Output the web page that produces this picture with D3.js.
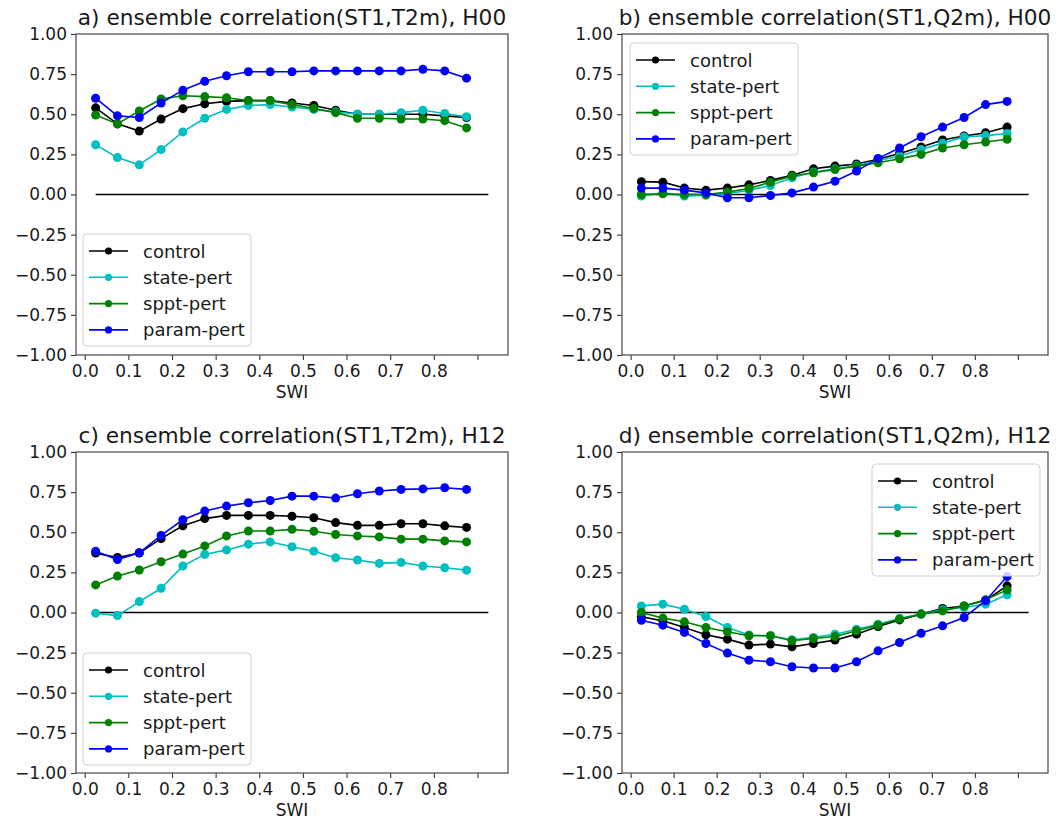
<!DOCTYPE html>
<html>
<head>
<meta charset="utf-8">
<script src="https://cdn.jsdelivr.net/npm/d3@7"></script>
<style>
  body { margin: 0; background: #fff; }
  svg { display: block; font-family: "DejaVu Sans", sans-serif; }
  .tick text { fill: #1a1a1a; }
</style>
</head>
<body>
<svg id="chart" width="1057" height="822"></svg>
<script>
// SWI bin centres (x categories)
var swi = [0.025, 0.075, 0.125, 0.175, 0.225, 0.275, 0.325, 0.375, 0.425,
  0.475, 0.525, 0.575, 0.625, 0.675, 0.725, 0.775, 0.825, 0.875];
var seriesNames = ["control", "state-pert", "sppt-pert", "param-pert"];
var xTicks = [0.0, 0.1, 0.2, 0.3, 0.4, 0.5, 0.6, 0.7, 0.8, 0.9];
var xTickLabels = ["0.0", "0.1", "0.2", "0.3", "0.4", "0.5", "0.6", "0.7", "0.8", ""];
var yTicks = [-1.0, -0.75, -0.5, -0.25, 0.0, 0.25, 0.5, 0.75, 1.0];
var titles = [
  "a) ensemble correlation(ST1,T2m), H00",
  "b) ensemble correlation(ST1,Q2m), H00",
  "c) ensemble correlation(ST1,T2m), H12",
  "d) ensemble correlation(ST1,Q2m), H12"
];

// a) ST1 vs T2m, H00
var aControl = [0.54, 0.44, 0.395, 0.47, 0.535, 0.565, 0.58, 0.585, 0.585, 0.57, 0.555, 0.525, 0.50, 0.50, 0.50, 0.50, 0.49, 0.48];
var aState = [0.31, 0.23, 0.185, 0.28, 0.39, 0.475, 0.53, 0.555, 0.56, 0.545, 0.53, 0.515, 0.50, 0.50, 0.51, 0.525, 0.505, 0.485];
var aSppt = [0.495, 0.44, 0.52, 0.595, 0.615, 0.61, 0.603, 0.585, 0.585, 0.56, 0.536, 0.51, 0.475, 0.475, 0.47, 0.47, 0.46, 0.415];
var aParam = [0.60, 0.49, 0.48, 0.57, 0.65, 0.705, 0.74, 0.765, 0.765, 0.765, 0.77, 0.77, 0.77, 0.77, 0.77, 0.78, 0.77, 0.725];

// b) ST1 vs Q2m, H00
var bControl = [0.08, 0.077, 0.04, 0.027, 0.04, 0.06, 0.088, 0.12, 0.16, 0.177, 0.19, 0.22, 0.256, 0.296, 0.34, 0.365, 0.385, 0.42];
var bState = [-0.01, 0.01, -0.01, -0.005, 0.005, 0.027, 0.056, 0.104, 0.14, 0.16, 0.18, 0.21, 0.24, 0.28, 0.32, 0.358, 0.367, 0.38];
var bSppt = [0.0, 0.005, 0.0, 0.0, 0.015, 0.037, 0.077, 0.115, 0.135, 0.156, 0.177, 0.198, 0.223, 0.25, 0.29, 0.31, 0.327, 0.344];
var bParam = [0.04, 0.04, 0.027, 0.01, -0.02, -0.02, -0.006, 0.01, 0.046, 0.083, 0.146, 0.225, 0.29, 0.36, 0.42, 0.48, 0.56, 0.58];

// c) ST1 vs T2m, H12
var cControl = [0.37, 0.343, 0.37, 0.46, 0.54, 0.585, 0.605, 0.605, 0.605, 0.60, 0.59, 0.56, 0.543, 0.543, 0.553, 0.553, 0.54, 0.53];
var cState = [-0.004, -0.019, 0.068, 0.151, 0.29, 0.362, 0.39, 0.426, 0.44, 0.41, 0.382, 0.341, 0.327, 0.306, 0.312, 0.29, 0.279, 0.264];
var cSppt = [0.172, 0.227, 0.265, 0.316, 0.364, 0.415, 0.477, 0.508, 0.508, 0.518, 0.506, 0.486, 0.477, 0.471, 0.457, 0.457, 0.446, 0.44];
var cParam = [0.382, 0.33, 0.372, 0.48, 0.578, 0.632, 0.663, 0.684, 0.698, 0.725, 0.725, 0.713, 0.74, 0.757, 0.767, 0.77, 0.777, 0.767];

// d) ST1 vs Q2m, H12
var dControl = [-0.027, -0.052, -0.093, -0.139, -0.166, -0.203, -0.197, -0.214, -0.193, -0.172, -0.135, -0.087, -0.046, -0.01, 0.025, 0.041, 0.077, 0.166];
var dState = [0.041, 0.052, 0.02, -0.025, -0.093, -0.14, -0.145, -0.17, -0.155, -0.135, -0.104, -0.073, -0.037, -0.01, 0.017, 0.031, 0.052, 0.11];
var dSppt = [0.0, -0.035, -0.058, -0.093, -0.12, -0.145, -0.145, -0.176, -0.162, -0.15, -0.114, -0.079, -0.041, -0.01, 0.01, 0.041, 0.079, 0.141];
var dParam = [-0.048, -0.079, -0.124, -0.193, -0.253, -0.297, -0.307, -0.338, -0.346, -0.346, -0.307, -0.239, -0.187, -0.129, -0.083, -0.031, 0.073, 0.224];

// zero reference line spans these x values
var zeroLine = [0.025, 0.925];

var colors = ["#000000", "#00bfbf", "#008000", "#0000ff"];

// panel boxes + legend placement
var panels = [
  { left: 76, right: 508, top: 34, bottom: 355, data: [aControl, aState, aSppt, aParam], legend: { x: 83, y: 234 } },
  { left: 622, right: 1048, top: 34, bottom: 355, data: [bControl, bState, bSppt, bParam], legend: { x: 630, y: 43 } },
  { left: 76, right: 508, top: 452, bottom: 773, data: [cControl, cState, cSppt, cParam], legend: { x: 83, y: 653 } },
  { left: 622, right: 1048, top: 452, bottom: 773, data: [dControl, dState, dSppt, dParam], legend: { x: 872, y: 464 } }
];

var svg = d3.select("#chart");
svg.append("rect").attr("width", 1057).attr("height", 822).attr("fill", "#fff");

panels.forEach(function (p, pi) {
  var x = d3.scaleLinear().domain([-0.02, 0.97]).range([p.left, p.right]);
  var y = d3.scaleLinear().domain([-1, 1]).range([p.bottom, p.top]);
  var g = svg.append("g");

  // axes
  var xAxis = g.append("g")
    .attr("transform", "translate(0," + p.bottom + ")")
    .call(d3.axisBottom(x).tickValues(xTicks).tickSize(5).tickPadding(5)
      .tickFormat(function (d, i) { return xTickLabels[i]; }));
  var yAxis = g.append("g")
    .attr("transform", "translate(" + p.left + ",0)")
    .call(d3.axisLeft(y).tickValues(yTicks).tickSize(5).tickPadding(4)
      .tickFormat(d3.format(".2f")));
  [xAxis, yAxis].forEach(function (a) {
    a.select(".domain").remove();
    a.selectAll(".tick line").attr("stroke", "#333").attr("stroke-width", 1.1);
    a.selectAll(".tick text").attr("font-size", 17).attr("font-family", "DejaVu Sans");
  });

  // frame
  g.append("rect")
    .attr("x", p.left).attr("y", p.top)
    .attr("width", p.right - p.left).attr("height", p.bottom - p.top)
    .attr("fill", "none").attr("stroke", "#555").attr("stroke-width", 1.3);

  // zero line
  g.append("line")
    .attr("x1", x(zeroLine[0])).attr("x2", x(zeroLine[1]))
    .attr("y1", y(0)).attr("y2", y(0))
    .attr("stroke", "#000").attr("stroke-width", 1.6);

  var line = d3.line().x(function (d, i) { return x(swi[i]); }).y(function (d) { return y(d); });

  p.data.forEach(function (vals, si) {
    g.append("path").datum(vals)
      .attr("d", line)
      .attr("fill", "none").attr("stroke", colors[si]).attr("stroke-width", 1.6);
    g.selectAll(".pt" + si).data(vals).enter().append("circle")
      .attr("cx", function (d, i) { return x(swi[i]); })
      .attr("cy", function (d) { return y(d); })
      .attr("r", 4.5)
      .attr("fill", colors[si]);
  });

  // title
  g.append("text")
    .attr("x", (p.left + p.right) / 2).attr("y", p.top - 9)
    .attr("text-anchor", "middle").attr("font-size", 21.7).attr("fill", "#1a1a1a")
    .text(titles[pi]);

  // x label
  g.append("text")
    .attr("x", (p.left + p.right) / 2).attr("y", p.bottom + 43)
    .attr("text-anchor", "middle").attr("font-size", 17).attr("fill", "#1a1a1a")
    .text("SWI");

  // legend
  var lg = g.append("g").attr("transform", "translate(" + p.legend.x + "," + p.legend.y + ")");
  lg.append("rect")
    .attr("width", 168).attr("height", 112).attr("rx", 4)
    .attr("fill", "#fff").attr("fill-opacity", 0.8)
    .attr("stroke", "#d0d0d0").attr("stroke-width", 1);
  seriesNames.forEach(function (name, si) {
    var cy = 17 + si * 26.3;
    lg.append("line").attr("x1", 6).attr("x2", 45).attr("y1", cy).attr("y2", cy)
      .attr("stroke", colors[si]).attr("stroke-width", 1.6);
    lg.append("circle").attr("cx", 25.5).attr("cy", cy).attr("r", 3.6).attr("fill", colors[si]);
    lg.append("text").attr("x", 60).attr("y", cy + 6.5)
      .attr("font-size", 18).attr("fill", "#1a1a1a").text(name);
  });
});
</script>
</body>
</html>
